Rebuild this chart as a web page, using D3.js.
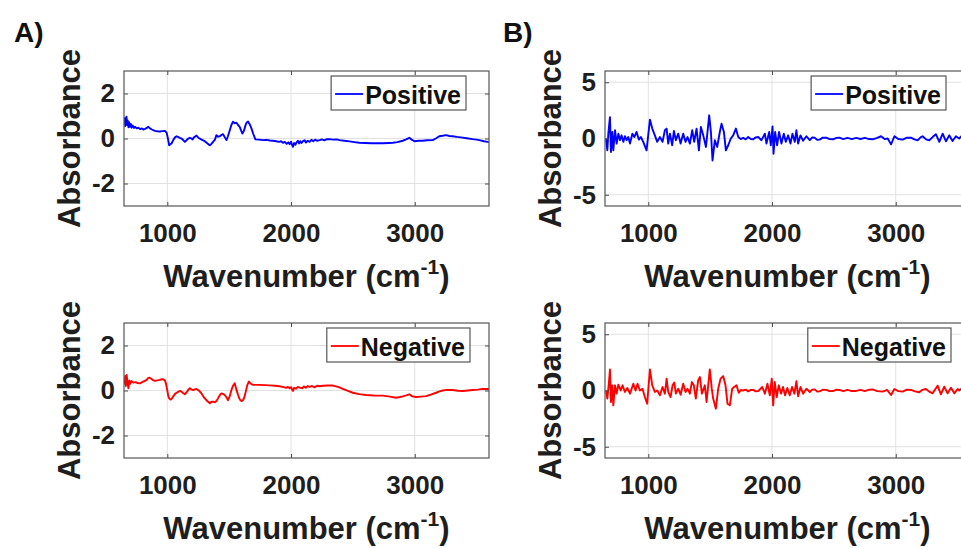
<!DOCTYPE html>
<html>
<head>
<meta charset="utf-8">
<script src="https://cdn.jsdelivr.net/npm/d3@7"></script>
<style>
  body { margin: 0; background: #fff; }
  svg { display: block; font-family: "Liberation Sans", Arial, sans-serif; }
</style>
</head>
<body>
<div id="container"></div>
<script>
// canvas size
var w = 961;
var h = 548;

// x ticks shared by every panel
var wnTicks = [1000, 2000, 3000];
var wnRange = [650, 3600];

// y ticks for the raw (A) and derivative (B) spectra
var ticksA = [-2, 0, 2];
var ticksB = [-5, 0, 5];

// A) raw spectra, [wavenumber, absorbance]
var positiveA = [
  [650, 0.70], [655, 0.90], [660, 0.55], [665, 0.85], [670, 0.97], [675, 0.60], [680, 0.80],
  [686, 0.50], [692, 0.72], [698, 0.52], [705, 0.65], [712, 0.48], [720, 0.58], [730, 0.47],
  [740, 0.52], [752, 0.45], [765, 0.48], [780, 0.42], [795, 0.45], [806, 0.40], [820, 0.43],
  [835, 0.47], [846, 0.52], [860, 0.45], [875, 0.40], [887, 0.37], [900, 0.34], [920, 0.32],
  [940, 0.31], [960, 0.33], [981, 0.34], [995, 0.25], [1005, 0.00], [1015, -0.30], [1025, -0.26],
  [1034, -0.22], [1050, -0.05], [1062, 0.05], [1075, 0.10], [1090, 0.06], [1105, 0.02], [1115, 0.00],
  [1130, -0.08], [1142, -0.15], [1155, -0.08], [1170, 0.00], [1182, 0.03], [1192, 0.01], [1204, -0.04],
  [1215, 0.05], [1225, 0.09], [1236, 0.13], [1247, 0.06], [1257, 0.01], [1270, -0.03], [1285, -0.07],
  [1303, -0.12], [1320, -0.20], [1335, -0.27], [1344, -0.30], [1355, -0.25], [1370, -0.15], [1385, -0.05],
  [1397, 0.15], [1410, 0.08], [1424, 0.10], [1437, 0.16], [1451, 0.19], [1465, 0.05], [1478, -0.07],
  [1490, 0.10], [1505, 0.37], [1518, 0.60], [1531, 0.75], [1545, 0.68], [1559, 0.70], [1572, 0.60],
  [1585, 0.52], [1597, 0.35], [1607, 0.22], [1620, 0.35], [1630, 0.55], [1640, 0.70], [1653, 0.75],
  [1667, 0.62], [1680, 0.45], [1695, 0.20], [1712, -0.04], [1740, -0.05], [1774, -0.07], [1800, -0.06],
  [1830, -0.09], [1854, -0.10], [1880, -0.12], [1905, -0.15], [1920, -0.12], [1935, -0.19], [1950, -0.15],
  [1965, -0.24], [1978, -0.17], [1989, -0.25], [2000, -0.14], [2008, -0.28], [2016, -0.37], [2025, -0.20],
  [2035, -0.28], [2043, -0.19], [2055, -0.10], [2065, -0.22], [2075, -0.12], [2085, -0.20], [2096, -0.12],
  [2110, -0.08], [2120, -0.18], [2135, -0.10], [2150, -0.15], [2165, -0.06], [2180, -0.12], [2195, -0.05],
  [2210, -0.10], [2231, -0.07], [2250, -0.04], [2270, -0.08], [2290, -0.03], [2311, -0.03], [2340, -0.05],
  [2370, -0.04], [2392, -0.07], [2430, -0.10], [2473, -0.13], [2510, -0.16], [2553, -0.19], [2600, -0.20],
  [2650, -0.21], [2688, -0.21], [2740, -0.21], [2790, -0.20], [2822, -0.19], [2860, -0.16], [2903, -0.10],
  [2930, -0.04], [2956, 0.03], [2975, -0.05], [2997, -0.12], [3030, -0.10], [3064, -0.10], [3100, -0.08],
  [3145, -0.07], [3170, 0.00], [3198, 0.10], [3225, 0.12], [3253, 0.15], [3280, 0.11], [3306, 0.10],
  [3340, 0.07], [3387, 0.04], [3420, 0.01], [3467, -0.03], [3500, -0.05], [3521, -0.07], [3560, -0.12],
  [3588, -0.15], [3600, -0.16]
];

var negativeA = [
  [650, 0.47], [655, 0.30], [660, 0.65], [665, 0.20], [672, 0.69], [678, 0.35], [686, 0.10],
  [693, 0.45], [700, 0.30], [710, 0.42], [726, 0.35], [745, 0.37], [760, 0.33], [780, 0.32],
  [800, 0.38], [815, 0.42], [833, 0.47], [845, 0.55], [855, 0.57], [870, 0.52], [885, 0.46],
  [900, 0.43], [920, 0.45], [940, 0.47], [955, 0.50], [967, 0.50], [980, 0.45], [989, 0.32],
  [1000, 0.00], [1008, -0.25], [1015, -0.35], [1025, -0.40], [1034, -0.38], [1050, -0.25], [1062, -0.15],
  [1075, -0.10], [1090, -0.05], [1107, -0.02], [1125, -0.10], [1142, -0.17], [1160, -0.05], [1172, 0.05],
  [1182, 0.10], [1195, 0.05], [1209, 0.02], [1222, 0.05], [1236, 0.07], [1255, 0.00], [1276, -0.13],
  [1295, -0.30], [1316, -0.43], [1330, -0.50], [1344, -0.57], [1357, -0.50], [1370, -0.50], [1385, -0.52],
  [1397, -0.47], [1410, -0.35], [1425, -0.20], [1437, -0.13], [1450, -0.15], [1464, -0.20], [1478, -0.30],
  [1491, -0.43], [1505, -0.25], [1518, 0.02], [1530, 0.20], [1545, 0.32], [1558, 0.05], [1572, -0.20],
  [1582, -0.35], [1591, -0.43], [1600, -0.47], [1612, -0.43], [1623, -0.30], [1634, -0.05], [1647, 0.25],
  [1660, 0.40], [1675, 0.30], [1693, 0.25], [1720, 0.25], [1747, 0.25], [1790, 0.24], [1827, 0.23],
  [1870, 0.21], [1908, 0.19], [1940, 0.15], [1960, 0.12], [1975, 0.16], [1989, 0.10], [2000, 0.15],
  [2008, 0.05], [2016, -0.02], [2025, 0.12], [2040, 0.08], [2055, 0.16], [2070, 0.13], [2090, 0.10],
  [2105, 0.18], [2120, 0.12], [2135, 0.20], [2150, 0.16], [2170, 0.20], [2190, 0.14], [2210, 0.21],
  [2231, 0.19], [2260, 0.21], [2300, 0.22], [2338, 0.22], [2380, 0.16], [2419, 0.07], [2460, -0.02],
  [2499, -0.10], [2550, -0.16], [2607, -0.20], [2670, -0.22], [2741, -0.23], [2800, -0.27], [2849, -0.32],
  [2880, -0.29], [2903, -0.26], [2930, -0.22], [2956, -0.17], [2980, -0.26], [3010, -0.29], [3050, -0.27],
  [3091, -0.25], [3130, -0.18], [3172, -0.10], [3200, -0.04], [3225, 0.00], [3260, 0.03], [3306, 0.02],
  [3350, -0.01], [3387, -0.02], [3430, 0.00], [3467, 0.02], [3510, 0.04], [3548, 0.07], [3588, 0.07],
  [3600, 0.06]
];

// B) derivative spectra, [wavenumber, absorbance]
var positiveB = [
  [658, 0.00], [669, -1.05], [677, 0.45], [690, 1.90], [698, -1.20], [709, 0.58], [717, -1.05],
  [731, 0.73], [744, -0.45], [758, 0.43], [771, -0.15], [784, 0.28], [798, -0.30], [811, 0.20],
  [825, -0.15], [838, 0.13], [852, -0.45], [871, 0.43], [887, 0.13], [905, 0.58], [924, -0.10],
  [940, 0.13], [959, -0.30], [986, -1.05], [1013, 1.68], [1032, 0.88], [1053, 0.28], [1072, -0.30],
  [1094, 0.13], [1115, -0.30], [1134, 0.73], [1148, 0.88], [1161, -0.45], [1175, 0.43], [1193, -0.60],
  [1207, 0.67], [1223, -0.15], [1242, 0.43], [1261, -0.45], [1282, 0.43], [1301, -0.30], [1317, 0.13],
  [1336, -0.45], [1355, 0.73], [1371, -0.30], [1390, 0.88], [1409, -1.05], [1425, 1.03], [1444, 0.28],
  [1466, -0.75], [1492, 2.06], [1506, 0.58], [1519, -1.95], [1538, -0.15], [1557, -0.75], [1578, 0.58],
  [1592, 1.32], [1611, 0.58], [1627, -1.05], [1646, -0.60], [1667, 0.00], [1686, 0.28], [1708, 0.88],
  [1727, 0.13], [1747, -0.05], [1767, 0.05], [1787, -0.08], [1807, 0.13], [1828, -0.05], [1848, -0.07],
  [1868, 0.10], [1888, 0.13], [1915, -0.15], [1942, 0.43], [1955, -0.45], [1977, 0.58], [1990, -0.60],
  [2004, 1.08], [2012, -1.35], [2025, 0.58], [2041, -0.60], [2057, 0.58], [2076, -0.45], [2095, 0.43],
  [2111, -0.30], [2130, 0.28], [2149, -0.45], [2165, 0.43], [2184, -0.30], [2197, 0.73], [2211, -0.45],
  [2230, 0.28], [2251, -0.20], [2278, 0.20], [2305, -0.15], [2325, 0.10], [2345, 0.07], [2365, -0.12],
  [2385, -0.10], [2410, 0.08], [2439, 0.07], [2465, -0.06], [2493, -0.07], [2520, 0.06], [2545, 0.07],
  [2575, -0.05], [2610, 0.06], [2645, -0.06], [2680, 0.05], [2715, -0.04], [2750, 0.05], [2785, -0.05],
  [2814, -0.07], [2850, 0.06], [2881, 0.20], [2910, -0.05], [2935, 0.00], [2962, -0.52], [2989, 0.20],
  [3020, -0.05], [3056, -0.10], [3090, 0.08], [3123, 0.07], [3150, -0.08], [3177, -0.16], [3200, 0.10],
  [3217, 0.20], [3245, -0.08], [3271, -0.16], [3300, 0.15], [3325, 0.37], [3352, -0.30], [3379, 0.43],
  [3406, -0.25], [3432, 0.28], [3459, -0.22], [3486, 0.20], [3513, 0.00], [3540, 0.30], [3567, -0.20],
  [3600, 0.10]
];

var negativeB = [
  [658, 0.00], [669, -0.72], [682, 0.75], [690, 1.87], [698, -1.02], [709, 0.46], [717, -1.32],
  [731, 0.46], [744, -0.28], [758, 0.52], [777, 0.00], [792, 0.46], [811, -0.13], [830, 0.22],
  [852, -0.28], [879, 0.60], [897, 0.00], [913, 0.60], [932, 0.00], [953, 0.16], [972, -0.58],
  [991, -1.17], [1013, 1.88], [1032, 0.46], [1053, -0.13], [1072, 0.00], [1094, -0.43], [1115, 0.31],
  [1134, -0.28], [1148, 1.05], [1161, -0.13], [1180, -0.58], [1196, 0.46], [1210, 0.70], [1223, -0.28],
  [1242, 0.16], [1261, -0.37], [1282, 0.60], [1301, -0.13], [1317, 0.16], [1336, -0.28], [1352, 0.75],
  [1368, 0.46], [1384, -0.72], [1403, 0.90], [1417, 1.20], [1433, -0.28], [1457, 0.46], [1471, -1.02],
  [1497, 1.88], [1513, 0.16], [1524, -0.72], [1546, -1.62], [1565, 0.16], [1584, 1.05], [1605, 1.28],
  [1624, 0.46], [1640, -1.17], [1659, -1.32], [1678, 0.16], [1694, 0.31], [1713, 0.46], [1731, -0.20],
  [1750, 0.05], [1767, 0.00], [1787, 0.08], [1807, -0.08], [1828, 0.05], [1848, 0.06], [1868, -0.08],
  [1888, -0.05], [1921, 0.31], [1942, -0.28], [1963, 0.60], [1982, -0.43], [1998, 1.05], [2009, -1.32],
  [2022, 0.75], [2038, -0.58], [2054, 0.46], [2073, -0.28], [2089, 0.31], [2105, -0.43], [2124, 0.22],
  [2143, -0.43], [2162, 0.31], [2181, -0.28], [2197, 0.82], [2211, -0.52], [2230, 0.31], [2251, -0.28],
  [2278, 0.16], [2305, -0.13], [2325, 0.08], [2345, 0.10], [2365, -0.10], [2385, -0.08], [2410, 0.07],
  [2439, 0.06], [2465, -0.06], [2493, -0.05], [2520, 0.07], [2545, 0.05], [2575, -0.06], [2610, 0.05],
  [2645, -0.05], [2680, -0.04], [2715, 0.06], [2750, -0.05], [2785, 0.07], [2814, 0.10], [2850, -0.06],
  [2895, -0.10], [2930, 0.05], [2962, -0.40], [2989, 0.13], [3020, -0.06], [3056, -0.10], [3090, 0.08],
  [3123, 0.05], [3155, -0.08], [3190, -0.16], [3215, 0.06], [3244, 0.13], [3270, -0.10], [3298, -0.25],
  [3338, 0.43], [3365, -0.34], [3392, 0.34], [3419, -0.25], [3446, 0.25], [3473, -0.25], [3500, 0.13],
  [3513, 0.00], [3540, 0.25], [3567, -0.22], [3600, 0.08]
];

// panel layout
var panels = [
  { left: 124, top: 71, yDomain: [-3, 3], yTicks: ticksA, data: positiveA, color: '#0000ff', name: 'Positive', legendGap: 23 },
  { left: 124, top: 323, yDomain: [-3, 3], yTicks: ticksA, data: negativeA, color: '#ff0000', name: 'Negative', legendGap: 19 },
  { left: 605, top: 71, yDomain: [-6, 6], yTicks: ticksB, data: positiveB, color: '#0000ff', name: 'Positive', legendGap: 24 },
  { left: 605, top: 323, yDomain: [-6, 6], yTicks: ticksB, data: negativeB, color: '#ff0000', name: 'Negative', legendGap: 19 }
];
var pw = 365;
var ph = 135;

// plain hyphen minus like the original figure
var fmt = function(d) { return String(d); };

var svg = d3.select('#container')
    .append('svg')
    .attr('width', w)
    .attr('height', h);

// panel letters
svg.append('text').attr('x', 14).attr('y', 42).text('A)')
    .style('font-size', '28px').style('font-weight', 'bold').attr('fill', '#111');
svg.append('text').attr('x', 503).attr('y', 42).text('B)')
    .style('font-size', '28px').style('font-weight', 'bold').attr('fill', '#111');

panels.forEach(function(p, i) {
    var x = d3.scaleLinear().domain(wnRange).range([0, pw]);
    var y = d3.scaleLinear().domain(p.yDomain).range([ph, 0]);

    var g = svg.append('g').attr('transform', 'translate(' + p.left + ',' + p.top + ')');

    g.append('clipPath').attr('id', 'clip' + i)
        .append('rect').attr('width', pw).attr('height', ph);

    //grid
    g.selectAll('.vgrid').data(wnTicks).enter().append('line')
        .attr('x1', x).attr('x2', x).attr('y1', 0).attr('y2', ph)
        .attr('stroke', '#e1e1e1').attr('stroke-width', 1);
    g.selectAll('.hgrid').data(p.yTicks).enter().append('line')
        .attr('x1', 0).attr('x2', pw).attr('y1', y).attr('y2', y)
        .attr('stroke', '#e1e1e1').attr('stroke-width', 1);

    //spectrum
    var line = d3.line()
        .x(function(d) { return x(d[0]); })
        .y(function(d) { return y(d[1]); });

    g.append('path')
        .datum(p.data)
        .attr('clip-path', 'url(#clip' + i + ')')
        .attr('fill', 'none')
        .attr('stroke', p.color)
        .attr('stroke-width', 1.9)
        .attr('stroke-linejoin', 'round')
        .attr('d', line);

    //axes, ticks pointing inward
    var bottom = g.append('g').attr('transform', 'translate(0,' + ph + ')')
        .call(d3.axisBottom(x).tickValues(wnTicks).tickSize(-4).tickPadding(18).tickFormat(fmt));
    var leftAx = g.append('g')
        .call(d3.axisLeft(y).tickValues(p.yTicks).tickSize(-4).tickPadding(9).tickFormat(fmt));
    g.append('g')
        .call(d3.axisTop(x).tickValues(wnTicks).tickSize(-4).tickFormat(''));
    g.append('g').attr('transform', 'translate(' + pw + ',0)')
        .call(d3.axisRight(y).tickValues(p.yTicks).tickSize(-4).tickFormat(''));

    g.selectAll('.domain').remove();
    g.selectAll('.tick line').attr('stroke', '#4a4a4a');
    [bottom, leftAx].forEach(function(a) {
        a.selectAll('text')
            .style('font-size', '26px')
            .style('font-weight', 'bold')
            .style('font-family', '"Liberation Sans", Arial, sans-serif')
            .attr('fill', '#1e1e1e');
    });

    //box
    g.append('rect')
        .attr('width', pw).attr('height', ph)
        .attr('fill', 'none')
        .attr('stroke', '#555')
        .attr('stroke-width', 1.2);

    //axis titles
    g.append('text')
        .attr('transform', 'translate(' + (-55) + ',' + (ph / 2) + ') rotate(-90)')
        .attr('text-anchor', 'middle')
        .attr('dy', '0.35em')
        .style('font-size', '31px')
        .style('font-weight', 'bold')
        .attr('fill', '#1e1e1e')
        .text('Absorbance');

    var xt = g.append('text')
        .attr('x', pw / 2)
        .attr('y', ph + 81)
        .attr('text-anchor', 'middle')
        .style('font-size', '31px')
        .style('font-weight', 'bold')
        .attr('fill', '#1e1e1e');
    xt.append('tspan').text('Wavenumber (cm');
    xt.append('tspan').attr('dy', -13).style('font-size', '21px').text('-1');
    xt.append('tspan').attr('dy', 13).text(')');

    //legend
    var lg = g.append('g');
    var lt = lg.append('text')
        .attr('y', 33)
        .style('font-size', '25px')
        .style('font-weight', 'bold')
        .attr('fill', '#111')
        .text(p.name);
    var tw = lt.node().getComputedTextLength();
    var lw = 4 + 28 + 2 + tw + 5;
    var lx = pw - p.legendGap - lw;
    lg.insert('rect', 'text')
        .attr('x', lx).attr('y', 5)
        .attr('width', lw).attr('height', 34)
        .attr('fill', '#fff')
        .attr('stroke', '#555')
        .attr('stroke-width', 1.2);
    lg.append('line')
        .attr('x1', lx + 4).attr('x2', lx + 32)
        .attr('y1', 23).attr('y2', 23)
        .attr('stroke', p.color)
        .attr('stroke-width', 1.8);
    lt.attr('x', lx + 34);
});
</script>
</body>
</html>
